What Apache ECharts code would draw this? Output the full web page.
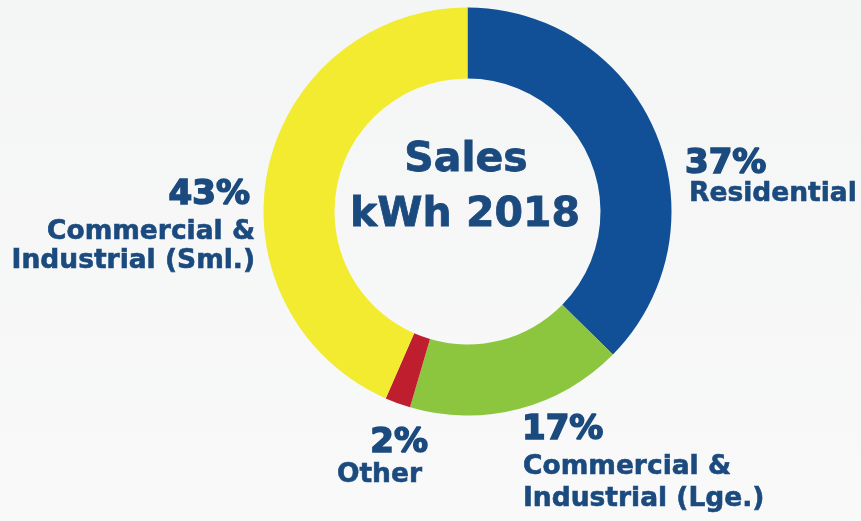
<!DOCTYPE html>
<html><head><meta charset="utf-8">
<script src="https://cdn.jsdelivr.net/npm/echarts@6/dist/echarts.min.js"></script>
<style>html,body{margin:0;padding:0;background:#f6f6f6}#c{width:861px;height:521px}</style>
</head><body><div id="c"></div>
<script>
const categories = ['Residential', 'Commercial & Industrial (Lge.)', 'Other', 'Commercial & Industrial (Sml.)'];
const values = [37, 17, 2, 43];
const colors = ['#114f96', '#8cc63f', '#be1e2d', '#f2eb30'];
const centerLines = ['Sales', 'kWh 2018'];
const labelLines = [['Residential'], ['Commercial &', 'Industrial (Lge.)'], ['Other'], ['Commercial &', 'Industrial (Sml.)']];

const TXT = '#1b4a7e';
const FF = '"DejaVu Sans", sans-serif';
function t(x, y, text, size, align, sw) {
  return { type: 'text', x: x, y: y + 2, style: { text: text, fill: TXT, stroke: TXT, lineWidth: sw, font: 'bold ' + size + 'px ' + FF, textAlign: align, textVerticalAlign: 'middle' } };
}
const labelPos = [
  { x: 685, xl: 689, ys: [162.5, 192.5], align: 'left' },
  { x: 522, xl: 523, ys: [428, 465, 497.5], align: 'left' },
  { x: 428, xl: 422, ys: [441, 473.5], align: 'right' },
  { x: 250, xl: 255, ys: [193, 230, 259], align: 'right' }
];
const graphics = [];
values.forEach((v, i) => {
  const p = labelPos[i];
  graphics.push(t(p.x, p.ys[0], v + '%', 34, p.align, 1.6));
  labelLines[i].forEach((s, k) => graphics.push(t(p.xl, p.ys[k + 1], s, 26.5, p.align, 0.6)));
});
graphics.push(t(466, 158.5, centerLines[0], 41, 'center', 0.8));
graphics.push(t(465, 213, centerLines[1], 41, 'center', 0.8));

const chart = echarts.init(document.getElementById('c'));
chart.setOption({
  backgroundColor: { type: 'linear', x: 0, y: 0, x2: 0, y2: 1, colorStops: [{ offset: 0, color: '#f4f5f5' }, { offset: 1, color: '#f9f9f9' }] },
  animation: false,
  series: [{
    type: 'pie',
    center: [467.5, 211.5],
    radius: [133, 204],
    startAngle: 90,
    clockwise: true,
    silent: true,
    label: { show: false },
    labelLine: { show: false },
    data: categories.map((c, i) => ({ name: c, value: values[i], itemStyle: { color: colors[i] } }))
  }],
  graphic: graphics
});
</script></body></html>
